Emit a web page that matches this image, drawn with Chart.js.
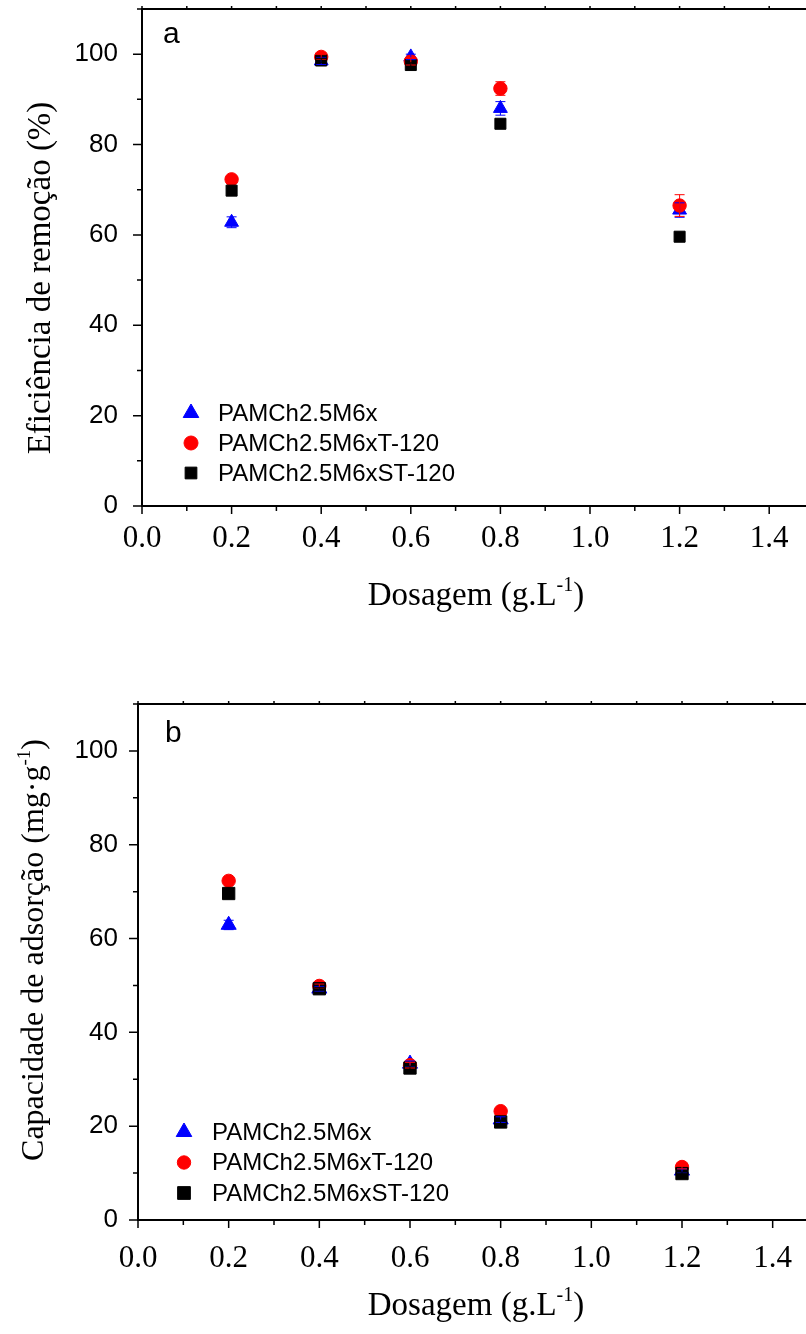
<!DOCTYPE html>
<html>
<head>
<meta charset="utf-8">
<script src="https://cdn.jsdelivr.net/npm/chart.js@4.4.0/dist/chart.umd.min.js"></script>
<style>
html, body { margin: 0; padding: 0; background: #fff; overflow: hidden; width: 806px; height: 1334px; }
#boxA { position: absolute; left: 0; top: 0; }
#boxB { position: absolute; left: 0; top: 650px; }
</style>
</head>
<body>
<div id="boxA"><canvas id="chartA" width="830" height="650"></canvas></div>
<div id="boxB"><canvas id="chartB" width="830" height="684"></canvas></div>
<script>
// Data

var dosagem = [0.2, 0.4, 0.6, 0.8, 1.2];
var seriesNames = ["PAMCh2.5M6x", "PAMCh2.5M6xT-120", "PAMCh2.5M6xST-120"];

// (a) Eficiência de remoção (%)
var efic_M6x   = [62.8, 98.5, 99.4, 88.0, 65.5];
var efic_T120  = [72.3, 99.4, 98.4, 92.4, 66.5];
var efic_ST120 = [69.8, 98.6, 97.6, 84.6, 59.6];
var eficErr_M6x   = [1.2, 0.8, 0.6, 1.5, 1.6];
var eficErr_T120  = [0.5, 0.5, 0.8, 1.5, 2.4];
var eficErr_ST120 = [0.5, 0.5, 0.5, 0.8, 0.6];

// (b) Capacidade de adsorção (mg.g-1)
var cap_M6x   = [62.9, 49.3, 33.3, 21.4, 10.5];
var cap_T120  = [72.3, 49.9, 33.0, 23.2, 11.3];
var cap_ST120 = [69.6, 49.3, 32.4, 20.9, 9.9];
var capErr_M6x   = [1.0, 0.5, 0.6, 0.6, 0.4];
var capErr_T120  = [0.4, 0.4, 0.6, 0.6, 0.4];
var capErr_ST120 = [0.3, 0.3, 0.4, 0.4, 0.3];

// axis ranges / tick steps
var xMin = 0, xMax = 1.5, xStep = 0.1;
var yMin = 0, yMax = 110, yStep = 10;

var colors = ["#0000ff", "#ff0000", "#000000"];
var styles = ["triangle", "circle", "rect"];


function toPoints(ys)
{
	var pts = [];
	for (var i = 0; i < dosagem.length; i++) {
		pts.push({x: dosagem[i], y: ys[i]});
	}
	return pts;
}

// box, axis lines and tick marks
var framePlugin = {
	id: "frame",
	afterDraw: function(chart) {
		var ctx = chart.ctx, a = chart.chartArea;
		var xs = chart.scales.x, ys = chart.scales.y;
		ctx.save();
		ctx.strokeStyle = "#000";
		ctx.lineWidth = 2;
		ctx.beginPath();
		ctx.moveTo(a.left, a.top);
		ctx.lineTo(a.right, a.top);
		ctx.lineTo(a.right, a.bottom);
		ctx.lineTo(a.left, a.bottom);
		ctx.closePath();
		ctx.stroke();

		ctx.lineWidth = 1.5;
		ctx.beginPath();
		xs.ticks.forEach(function(t) {
			var px = xs.getPixelForValue(t.value);
			var len = t.label !== "" ? 8 : 5;
			ctx.moveTo(px, a.bottom);
			ctx.lineTo(px, a.bottom + len);
			ctx.moveTo(px, a.top);
			ctx.lineTo(px, a.top - 3);
		});
		ys.ticks.forEach(function(t) {
			var py = ys.getPixelForValue(t.value);
			var len = t.label !== "" ? 9 : 5;
			ctx.moveTo(a.left, py);
			ctx.lineTo(a.left - len, py);
		});
		ctx.stroke();
		ctx.restore();
	}
};

// vertical error bars from dataset.errors
var errorBarPlugin = {
	id: "errorBars",
	afterDatasetsDraw: function(chart) {
		var ctx = chart.ctx, ys = chart.scales.y;
		chart.data.datasets.forEach(function(ds, i) {
			var meta = chart.getDatasetMeta(i);
			ctx.save();
			ctx.strokeStyle = ds.borderColor;
			ctx.lineWidth = 1;
			meta.data.forEach(function(pt, j) {
				var v = ds.data[j].y, e = ds.errors[j];
				var top = ys.getPixelForValue(v + e);
				var bot = ys.getPixelForValue(v - e);
				ctx.beginPath();
				ctx.moveTo(pt.x, top); ctx.lineTo(pt.x, bot);
				ctx.moveTo(pt.x - 5, top); ctx.lineTo(pt.x + 5, top);
				ctx.moveTo(pt.x - 5, bot); ctx.lineTo(pt.x + 5, bot);
				ctx.stroke();
			});
			ctx.restore();
		});
	}
};

// legend inside the plot
var insetLegendPlugin = {
	id: "insetLegend",
	afterDraw: function(chart, args, o) {
		var ctx = chart.ctx;
		chart.data.datasets.forEach(function(ds, i) {
			var y = o.y + i * o.gap;
			ctx.save();
			ctx.fillStyle = ds.backgroundColor;
			ctx.strokeStyle = ds.borderColor;
			Chart.helpers.drawPoint(ctx, {pointStyle: ds.pointStyle, radius: o.radius[i], borderWidth: 1, rotation: 0}, o.x, y);
			ctx.fillStyle = "#000";
			ctx.font = o.size + "px 'Liberation Sans', Arial, sans-serif";
			ctx.textBaseline = "middle";
			ctx.textAlign = "left";
			ctx.fillText(ds.label, o.textX, y + 1);
			ctx.restore();
		});
	}
};

// axis titles (with superscript) and the panel letter
var textPlugin = {
	id: "texts",
	afterDraw: function(chart, args, o) {
		var ctx = chart.ctx;
		o.items.forEach(function(it) {
			var fam = it.family || "'Liberation Serif', 'Times New Roman', serif";
			var big = it.size + "px " + fam;
			var small = Math.round(it.size * 0.6) + "px " + fam;
			ctx.save();
			ctx.fillStyle = "#000";
			ctx.textBaseline = "alphabetic";
			ctx.textAlign = "left";
			ctx.translate(it.x, it.y);
			if (it.vertical) ctx.rotate(-Math.PI / 2);
			ctx.font = big;
			var w1 = ctx.measureText(it.text).width;
			var w3 = ctx.measureText(it.after || "").width;
			ctx.font = small;
			var w2 = it.sup ? ctx.measureText(it.sup).width : 0;
			var x0 = it.align === "left" ? 0 : -(w1 + w2 + w3) / 2;
			ctx.font = big;
			ctx.fillText(it.text, x0, 0);
			if (it.after) ctx.fillText(it.after, x0 + w1 + w2, 0);
			if (it.sup) {
				ctx.font = small;
				ctx.fillText(it.sup, x0 + w1, -it.size * 0.42);
			}
			ctx.restore();
		});
	}
};

function makeChart(canvasId, values, errors, cfg)
{
	var datasets = [];
	for (var i = 0; i < 3; i++) {
		datasets.push({
			label: seriesNames[i],
			data: toPoints(values[i]),
			errors: errors[i],
			pointStyle: styles[i],
			pointRadius: cfg.radius[i],
			backgroundColor: colors[i],
			borderColor: colors[i],
			borderWidth: 1,
			order: 3 - i,
			showLine: false
		});
	}

	var ctx = document.getElementById(canvasId).getContext("2d");
	return new Chart(ctx, {
		type: "scatter",
		data: { datasets: datasets },
		plugins: [framePlugin, errorBarPlugin, insetLegendPlugin, textPlugin],
		options: {
			responsive: false,
			animation: false,
			events: [],
			layout: { autoPadding: false, padding: { top: cfg.padTop, right: cfg.padRight, left: 0, bottom: 0 } },
			scales: {
				x: {
					type: "linear",
					min: xMin, max: xMax,
					grid: { display: false, drawTicks: false },
					border: { display: false },
					ticks: {
						stepSize: xStep,
						includeBounds: false,
						autoSkip: false,
						maxRotation: 0,
						padding: cfg.xPad,
						color: "#000",
						font: { family: "'Liberation Serif', 'Times New Roman', serif", size: 31 },
						callback: function(v, i) { return i % 2 === 0 ? v.toFixed(1) : ""; }
					},
					afterFit: function(s) { s.height = cfg.xHeight; s.paddingLeft = 0; s.paddingRight = 0; }
				},
				y: {
					type: "linear",
					min: yMin, max: yMax,
					grid: { display: false, drawTicks: false },
					border: { display: false },
					ticks: {
						stepSize: yStep,
						includeBounds: false,
						autoSkip: false,
						padding: cfg.yPad,
						color: "#000",
						font: { family: "'Liberation Sans', Arial, sans-serif", size: 26 },
						callback: function(v, i) { return i % 2 === 0 ? String(v) : ""; }
					},
					afterFit: function(s) { s.width = cfg.yWidth; s.paddingTop = 0; s.paddingBottom = 0; }
				}
			},
			plugins: {
				legend: { display: false },
				tooltip: { enabled: false },
				insetLegend: cfg.legend,
				texts: { items: cfg.texts }
			}
		}
	});
}

window.onload = function() {

	makeChart("chartA",
		[efic_M6x, efic_T120, efic_ST120],
		[eficErr_M6x, eficErr_T120, eficErr_ST120],
		{
			padTop: 9, padRight: 16, xHeight: 144, yWidth: 142,
			xPad: 14, yPad: 24,
			radius: [8, 6.7, 7.8],
			legend: { x: 191, y: 413, gap: 30, textX: 218, size: 24, radius: [9, 7, 8.3] },
			texts: [
				{ text: "Dosagem (g.L", sup: "-1", after: ")", x: 476, y: 605, size: 33 },
				{ text: "Eficiência de remoção (%)", x: 50, y: 278, size: 33, vertical: true },
				{ text: "a", x: 163, y: 43, size: 30, align: "left", family: "'Liberation Sans', Arial, sans-serif" }
			]
		});

	makeChart("chartB",
		[cap_M6x, cap_T120, cap_ST120],
		[capErr_M6x, capErr_T120, capErr_ST120],
		{
			padTop: 54, padRight: 12, xHeight: 114, yWidth: 138,
			xPad: 20, yPad: 20,
			radius: [8.7, 6.7, 8.7],
			legend: { x: 184, y: 482, gap: 30.5, textX: 212, size: 24, radius: [9, 6.7, 9] },
			texts: [
				{ text: "Dosagem (g.L", sup: "-1", after: ")", x: 476, y: 665, size: 33 },
				{ text: "Capacidade de adsorção (mg·g", sup: "-1", after: ")", x: 43, y: 300, size: 32, vertical: true },
				{ text: "b", x: 165, y: 92, size: 30, align: "left", family: "'Liberation Sans', Arial, sans-serif" }
			]
		});
}
</script>
</body>
</html>
